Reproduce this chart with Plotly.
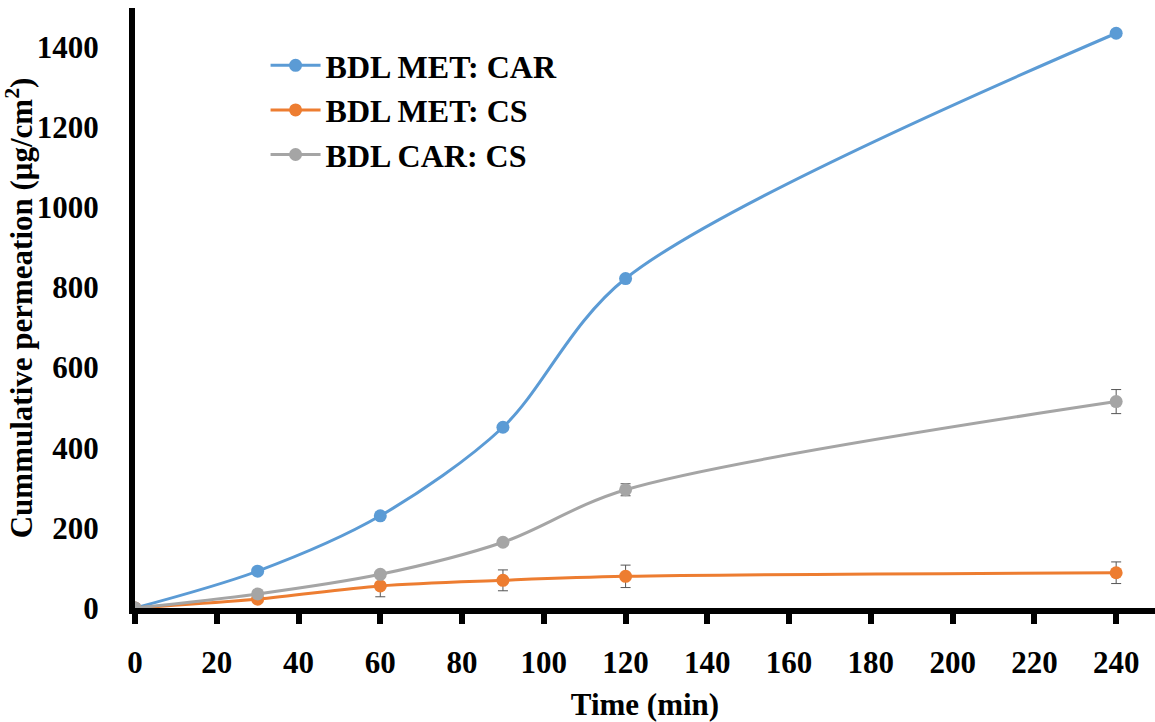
import plotly.graph_objects as go

time_min = [0, 30, 60, 90, 120, 240]
met_car = [0, 92, 230, 451, 822, 1434]
met_car_err = [0, 8, 6, 6, 6, 8]
met_cs = [0, 22, 55, 69, 79, 88]
met_cs_err = [0, 6, 27, 26, 28, 27]
car_cs = [0, 35, 84, 164, 295, 515]
car_cs_err = [0, 5, 6, 6, 15, 30]

series = [
    ("BDL MET: CAR", met_car, met_car_err, "#5B9BD5"),
    ("BDL MET: CS", met_cs, met_cs_err, "#ED7D31"),
    ("BDL CAR: CS", car_cs, car_cs_err, "#A5A5A5"),
]

FONT = "Liberation Serif"

fig = go.Figure()
for name, vals, errs, col in series:
    fig.add_trace(go.Scatter(
        x=time_min, y=vals, name=name, mode="lines+markers",
        line=dict(color=col, width=3, shape="spline", smoothing=0.9),
        marker=dict(color=col, size=13),
        error_y=dict(type="data", array=errs, visible=True,
                     color="#555555", thickness=1, width=5),
    ))

fig.update_layout(
    width=1155, height=722,
    margin=dict(l=135, r=0, t=8, b=110),
    paper_bgcolor="white", plot_bgcolor="white",
    font=dict(family=FONT, size=30, color="black"),
    showlegend=True,
    legend=dict(x=0.128, y=0.95, xanchor="left", yanchor="top",
                font=dict(family=FONT, size=32, color="black", weight="bold"),
                bgcolor="rgba(0,0,0,0)", tracegroupgap=0, itemwidth=50),
    xaxis=dict(
        range=[0, 249.5], tickmode="array",
        tickvals=list(range(0, 241, 20)),
        ticktext=[str(v) for v in range(0, 241, 20)],
        showgrid=False, zeroline=False,
        showline=True, linecolor="black", linewidth=6,
        ticks="outside", ticklen=10, tickwidth=6, tickcolor="black",
        ticklabelstandoff=12,
        tickfont=dict(family=FONT, size=31, color="black", weight="bold"),
        title=dict(text="Time (min)", standoff=20,
                   font=dict(family=FONT, size=31, color="black", weight="bold")),
    ),
    yaxis=dict(
        range=[0, 1497], tickmode="array",
        tickvals=list(range(0, 1401, 200)),
        ticktext=[str(v) for v in range(0, 1401, 200)],
        showgrid=False, zeroline=False,
        showline=True, linecolor="black", linewidth=6,
        ticks="", ticklabelstandoff=24,
        tickfont=dict(family=FONT, size=31, color="black", weight="bold"),
        title=dict(text="Cummulative permeation (μg/cm<sup>2</sup>)", standoff=6,
                   font=dict(family=FONT, size=31, color="black", weight="bold")),
    ),
)

fig.write_html("out.html")
